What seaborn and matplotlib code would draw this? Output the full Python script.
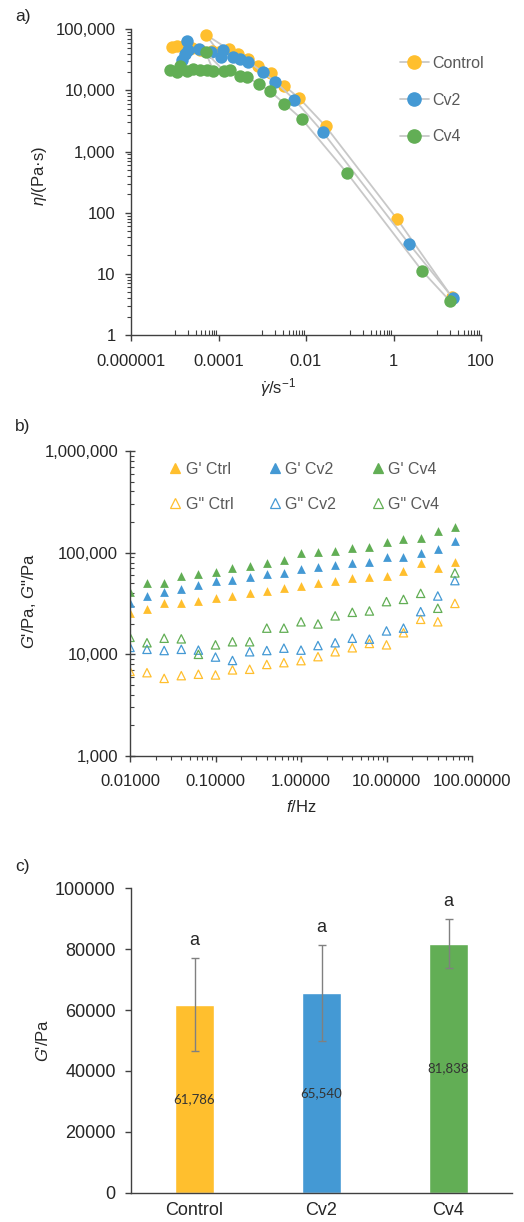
import matplotlib
matplotlib.use('Agg')
import matplotlib.pyplot as plt
import seaborn as sns
import pandas as pd
from matplotlib.lines import Line2D
from matplotlib.ticker import FixedLocator, FuncFormatter, NullFormatter, LogLocator

# ---- panel a: viscosity vs shear rate (order = measurement order, used for lines)
ctrl_rate = [8.5e-6, 1.1e-5, 1.7e-5, 2.5e-5, 3.8e-5, 7e-5, 1.0e-4, 5.1e-5, 1.7e-4, 2.8e-4,
             4.8e-4, 8.1e-4, 1.56e-3, 3.2e-3, 7.1e-3, 0.028, 1.22, 21.5]
ctrl_visc = [52000, 53000, 55000, 50000, 46000, 44000, 43000, 82000, 47000, 39000,
             32500, 25000, 19000, 11900, 7400, 2600, 78, 4.2]
cv2_rate = [1.45e-5, 1.7e-5, 1.87e-5, 2e-5, 3.5e-5, 6.9e-5, 1.17e-4, 1.3e-4, 2.2e-4, 3.1e-4,
            4.8e-4, 1.02e-3, 2.0e-3, 5.4e-3, 0.024, 2.3, 22.4]
cv2_visc = [31500, 40000, 64000, 46000, 47000, 43000, 35600, 46000, 35000, 32500,
            29500, 20000, 13800, 7100, 2100, 30.5, 4.1]
cv4_rate = [7.6e-6, 1.15e-5, 1.3e-5, 1.9e-5, 2.65e-5, 3.8e-5, 5.4e-5, 7.6e-5, 5.1e-5, 1.33e-4,
            1.8e-4, 3.1e-4, 4.5e-4, 8.3e-4, 1.5e-3, 3.2e-3, 8.2e-3, 0.088, 4.6, 19.5]
cv4_visc = [22000, 19700, 25000, 21000, 22800, 22000, 21500, 21000, 42000, 21000,
            22000, 17200, 16800, 12600, 9800, 6100, 3350, 440, 11, 3.6]

# ---- panel b: frequency sweep
freq = [0.01, 0.0158, 0.0251, 0.0398, 0.0631, 0.1, 0.158, 0.251, 0.398, 0.631,
        1.0, 1.58, 2.51, 3.98, 6.31, 10.0, 15.8, 25.1, 39.8, 63.1]
g1_ctrl = [25400, 27800, 32300, 31700, 33700, 35500, 37500, 39900, 42000, 44700,
           47400, 50100, 53100, 56000, 58000, 59000, 66500, 79500, 70300, 80300]
g1_cv2 = [32300, 37500, 40700, 44000, 47900, 52700, 53900, 57300, 61300, 63300,
          68700, 71800, 75700, 79500, 80300, 90100, 90100, 100000, 108700, 131000]
g1_cv4 = [40700, 50700, 50700, 59400, 61700, 64600, 70300, 74000, 78700, 84700,
          98600, 102000, 104000, 112000, 114600, 128000, 135000, 140000, 164000, 178000]
g2_ctrl = [6800, 6600, 5800, 6170, 6370, 6270, 7030, 7130, 7950, 8280,
           8670, 9490, 10600, 11600, 12800, 12400, 16300, 22100, 20900, 31700]
g2_cv2 = [11700, 11200, 10900, 11200, 11000, 9400, 8700, 10600, 10900, 11500,
          11000, 12200, 13000, 14400, 14100, 17000, 18100, 26300, 37500, 53100]
g2_cv4 = [14700, 13000, 14400, 14200, 10000, 12400, 13300, 13300, 18100, 18100,
          20900, 19900, 23900, 25900, 26700, 33000, 34700, 39800, 28400, 63200]

# ---- panel c: G' bars
bar_cats = ['Control', 'Cv2', 'Cv4']
bar_vals = [61786, 65540, 81838]
bar_err = [15200, 15770, 8150]
bar_letters = ['a', 'a', 'a']

YEL, BLU, GRN = '#FFBF2E', '#4499D4', '#62AE55'
TXT = '#262626'
LEG = '#595959'
GREYLINE = '#C8C8C8'

sns.set_style('ticks')
plt.rcParams['font.family'] = ['Liberation Sans', 'DejaVu Sans']
plt.rcParams['mathtext.fontset'] = 'custom'
plt.rcParams['mathtext.rm'] = 'Liberation Sans'
plt.rcParams['mathtext.it'] = 'Liberation Sans:italic'
plt.rcParams['mathtext.bf'] = 'Liberation Sans:bold'
plt.rcParams['axes.edgecolor'] = '#404040'
plt.rcParams['xtick.color'] = '#404040'
plt.rcParams['ytick.color'] = '#404040'
plt.rcParams['xtick.labelcolor'] = TXT
plt.rcParams['ytick.labelcolor'] = TXT

W, H = 524, 1222
fig = plt.figure(figsize=(W / 100, H / 100), dpi=100)


def rect(l, t, r, b):
    return [l / W, 1 - b / H, (r - l) / W, (b - t) / H]


def style_axes(ax):
    ax.spines[['top', 'right']].set_visible(False)
    for s in ['left', 'bottom']:
        ax.spines[s].set_linewidth(1.0)


comma = FuncFormatter(lambda v, p: f"{v:,.0f}")

# ================= a) =================
ax = fig.add_axes(rect(131, 29.3, 481, 335))
series_a = [('Control', ctrl_rate, ctrl_visc, YEL),
            ('Cv2', cv2_rate, cv2_visc, BLU),
            ('Cv4', cv4_rate, cv4_visc, GRN)]
for i, (name, xs, ys, col) in enumerate(series_a):
    sns.lineplot(x=xs, y=ys, sort=False, estimator=None, color=GREYLINE, lw=1.3,
                 ax=ax, zorder=2 + 2 * i)
    sns.scatterplot(x=xs, y=ys, color=col, s=80, linewidth=0, ax=ax, zorder=3 + 2 * i)
ax.set_xscale('log')
ax.set_yscale('log')
ax.set_xlim(1e-6, 100)
ax.set_ylim(1, 1e5)
style_axes(ax)
ax.xaxis.set_major_locator(FixedLocator([1e-6, 1e-4, 1e-2, 1, 100]))
ax.xaxis.set_major_formatter(FuncFormatter(lambda v, p: f"{v:.6f}".rstrip('0').rstrip('.') if v < 1 else f"{v:.0f}"))
ax.xaxis.set_minor_locator(FixedLocator([k * 10.0 ** e for e in (-5, -3, -1, 1) for k in range(1, 10)]))
ax.xaxis.set_minor_formatter(NullFormatter())
ax.yaxis.set_major_locator(FixedLocator([1, 10, 100, 1e3, 1e4, 1e5]))
ax.yaxis.set_major_formatter(comma)
ax.yaxis.set_minor_locator(LogLocator(base=10, subs=(2, 3, 4, 5, 6, 7, 8, 9)))
ax.yaxis.set_minor_formatter(NullFormatter())
ax.tick_params(which='major', direction='out', length=4, width=1, labelsize=12, pad=7)
ax.tick_params(axis='x', which='major', pad=10)
ax.tick_params(axis='x', which='minor', direction='in', length=3.5, width=0.8)
ax.tick_params(axis='y', which='minor', direction='out', length=3, width=0.8)
ax.set_xlabel(r"$\dot{\gamma}$/s$^{-1}$", fontsize=12, color=TXT)
ax.set_ylabel(r"$\eta$/(Pa·s)", fontsize=12, color=TXT)
ax.xaxis.set_label_coords(0.42, -0.135)
ax.yaxis.set_label_coords(-0.235, 0.52)
handles = [Line2D([0], [0], color=GREYLINE, lw=1.3, marker='o', ms=9.5, mfc=c, mec=c)
           for _, _, _, c in series_a]
ax.legend(handles, [s[0] for s in series_a], loc='upper left', frameon=False,
          bbox_to_anchor=(400 / W, 1 - 56 / H), bbox_transform=fig.transFigure,
          fontsize=11.5, labelcolor=LEG, handlelength=1.8, handletextpad=0.25,
          labelspacing=1.35, borderpad=0, borderaxespad=0)
fig.text(15 / W, 1 - 17 / H, 'a)', fontsize=12.5, color=TXT, va='center')

# ================= b) =================
ax = fig.add_axes(rect(130, 451, 472, 756))
series_b = [("G' Ctrl", g1_ctrl, YEL, True), ('G" Ctrl', g2_ctrl, YEL, False),
            ("G' Cv2", g1_cv2, BLU, True), ('G" Cv2', g2_cv2, BLU, False),
            ("G' Cv4", g1_cv4, GRN, True), ('G" Cv4', g2_cv4, GRN, False)]
for name, ys, col, filled in series_b:
    df = pd.DataFrame({'f': freq, 'G': ys})
    if filled:
        sns.scatterplot(data=df, x='f', y='G', marker='^', s=40, color=col, linewidth=0, ax=ax)
    else:
        sns.scatterplot(data=df, x='f', y='G', marker='^', s=36, facecolors='none',
                        edgecolor=col, linewidth=0.9, ax=ax)
ax.set_xscale('log')
ax.set_yscale('log')
ax.set_xlim(0.01, 100)
ax.set_ylim(1e3, 1e6)
style_axes(ax)
ax.xaxis.set_major_locator(FixedLocator([0.01, 0.1, 1, 10, 100]))
ax.xaxis.set_major_formatter(FuncFormatter(lambda v, p: f"{v:.5f}"))
ax.xaxis.set_minor_locator(LogLocator(base=10, subs=(2, 3, 4, 5, 6, 7, 8, 9)))
ax.xaxis.set_minor_formatter(NullFormatter())
ax.yaxis.set_major_locator(FixedLocator([1e3, 1e4, 1e5, 1e6]))
ax.yaxis.set_major_formatter(comma)
ax.yaxis.set_minor_locator(LogLocator(base=10, subs=(2, 3, 4, 5, 6, 7, 8, 9)))
ax.yaxis.set_minor_formatter(NullFormatter())
ax.tick_params(axis='x', which='major', direction='out', length=4, width=1, labelsize=12, pad=9)
ax.tick_params(axis='y', which='major', direction='inout', length=7, width=1, labelsize=12, pad=5)
ax.tick_params(axis='x', which='minor', direction='out', length=3, width=0.8)
ax.tick_params(axis='y', which='minor', direction='in', length=3, width=0.8)
ax.set_xlabel(r"$f$/Hz", fontsize=12, color=TXT)
ax.set_ylabel("$G$'/Pa, $G$\"/Pa", fontsize=12, color=TXT)
ax.xaxis.set_label_coords(0.5, -0.14)
ax.yaxis.set_label_coords(-0.27, 0.51)
handles = [Line2D([0], [0], ls='none', marker='^', ms=6.5, mec=c, mew=0.9,
                  mfc=c if filled else 'none') for _, _, c, filled in series_b]
ax.legend(handles, [s[0] for s in series_b], ncol=3, loc='upper left', frameon=False,
          bbox_to_anchor=(168 / W, 1 - 462 / H), bbox_transform=fig.transFigure,
          fontsize=11.5, labelcolor=LEG, handlelength=0.9, handletextpad=0.2,
          labelspacing=1.25, columnspacing=2.15, borderpad=0, borderaxespad=0)
fig.text(15 / W, 1 - 427 / H, 'b)', fontsize=12.5, color=TXT, va='center')

# ================= c) =================
ax = fig.add_axes(rect(131, 888.3, 512, 1192.7))
sns.barplot(x=bar_cats, y=bar_vals, hue=bar_cats, palette=[YEL, BLU, GRN], saturation=1,
            width=0.31, legend=False, ax=ax)
for cont, v in zip(list(ax.containers), bar_vals):
    ax.bar_label(cont, labels=[f"{v:,}"], label_type='center', fontfamily='Lato',
                 fontsize=9.5, color='#333333')
pos = list(range(len(bar_cats)))
ax.errorbar(pos, bar_vals, yerr=bar_err, fmt='none', ecolor='#808080', elinewidth=1,
            capsize=3, capthick=1, zorder=5)
for x, v, e, t in zip(pos, bar_vals, bar_err, bar_letters):
    ax.text(x, v + e + 5800, t, ha='center', va='center', fontsize=13, color=TXT)
ax.set_xlim(-0.5, 2.5)
ax.set_ylim(0, 100000)
style_axes(ax)
ax.set_yticks([0, 20000, 40000, 60000, 80000, 100000])
ax.tick_params(axis='y', direction='out', length=4, width=1, labelsize=13, pad=7)
ax.tick_params(axis='x', length=0, labelsize=13, pad=7)
ax.set_ylabel(r"$G$'/Pa", fontsize=12, color=TXT)
ax.yaxis.set_label_coords(-0.21, 0.50)
fig.text(15 / W, 1 - 866 / H, 'c)', fontsize=12.5, color=TXT, va='center')

fig.savefig('out.png', dpi=100)
